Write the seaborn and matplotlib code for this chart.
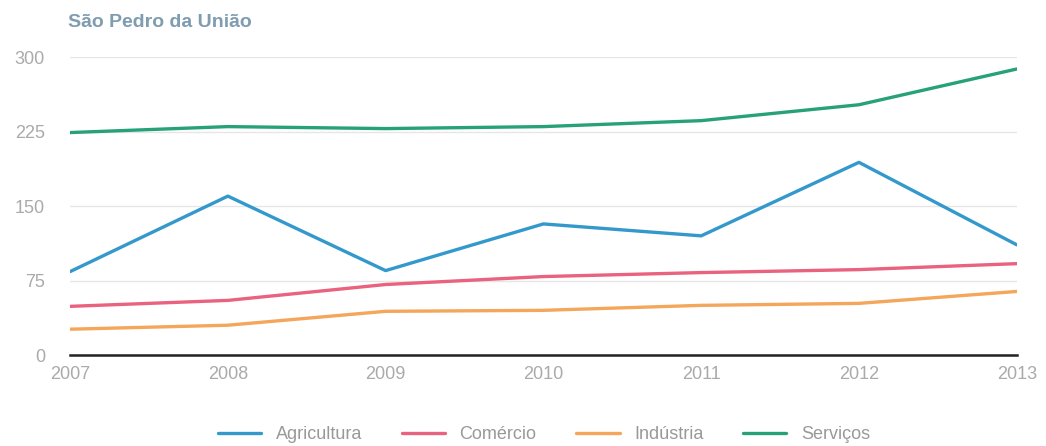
import pandas as pd
import seaborn as sns
import matplotlib.pyplot as plt

sns.set_theme(style="white")
plt.rcParams["font.family"] = ["Liberation Sans", "DejaVu Sans"]

# valores (aprox.)
anos = [2007, 2008, 2009, 2010, 2011, 2012, 2013]
agricultura = [84, 160, 85, 132, 120, 194, 111]
comercio = [49, 55, 71, 79, 83, 86, 92]
industria = [26, 30, 44, 45, 50, 52, 64]
servicos = [224, 230, 228, 230, 236, 252, 288]

setores = ["Agricultura", "Comércio", "Indústria", "Serviços"]
cores = ["#3399cc", "#e9627f", "#f4a65b", "#26a17a"]
yticks = [0, 75, 150, 225, 300]

df = pd.DataFrame(
    {
        "ano": anos * 4,
        "valor": agricultura + comercio + industria + servicos,
        "setor": [s for s in setores for _ in anos],
    }
)

fig = plt.figure(figsize=(10.46, 4.46), dpi=100)
ax = fig.add_axes([0.067, 0.204, 0.905, 0.668])

sns.lineplot(
    data=df,
    x="ano",
    y="valor",
    hue="setor",
    hue_order=setores,
    palette=cores,
    linewidth=2.4,
    ax=ax,
    legend=True,
)

ax.set_xlim(2007, 2013)
ax.set_ylim(0, 300)
ax.set_xticks(anos)
ax.set_yticks(yticks)
ax.set_xlabel("")
ax.set_ylabel("")
ax.grid(axis="y", color="#e6e6e6", linewidth=1)
ax.set_axisbelow(True)
for side in ["top", "right", "left"]:
    ax.spines[side].set_visible(False)
ax.spines["bottom"].set_color("#222222")
ax.spines["bottom"].set_linewidth(1.8)
ax.tick_params(axis="y", length=0, pad=18, labelsize=13, labelcolor="#aaaaaa")
ax.tick_params(axis="x", length=0, pad=8, labelsize=13, labelcolor="#aaaaaa")

# legenda embaixo, centralizada
handles, labels = ax.get_legend_handles_labels()
ax.get_legend().remove()
fig.legend(
    handles,
    labels,
    loc="center",
    bbox_to_anchor=(0.52, 0.025),
    ncol=4,
    frameon=False,
    fontsize=13,
    labelcolor="#999999",
    handlelength=2.4,
    columnspacing=2.2,
)

fig.text(0.065, 0.95, "São Pedro da União", fontsize=14, fontweight="bold",
         color="#7f9cb0", va="center", ha="left")

fig.savefig("out.png", dpi=100)
